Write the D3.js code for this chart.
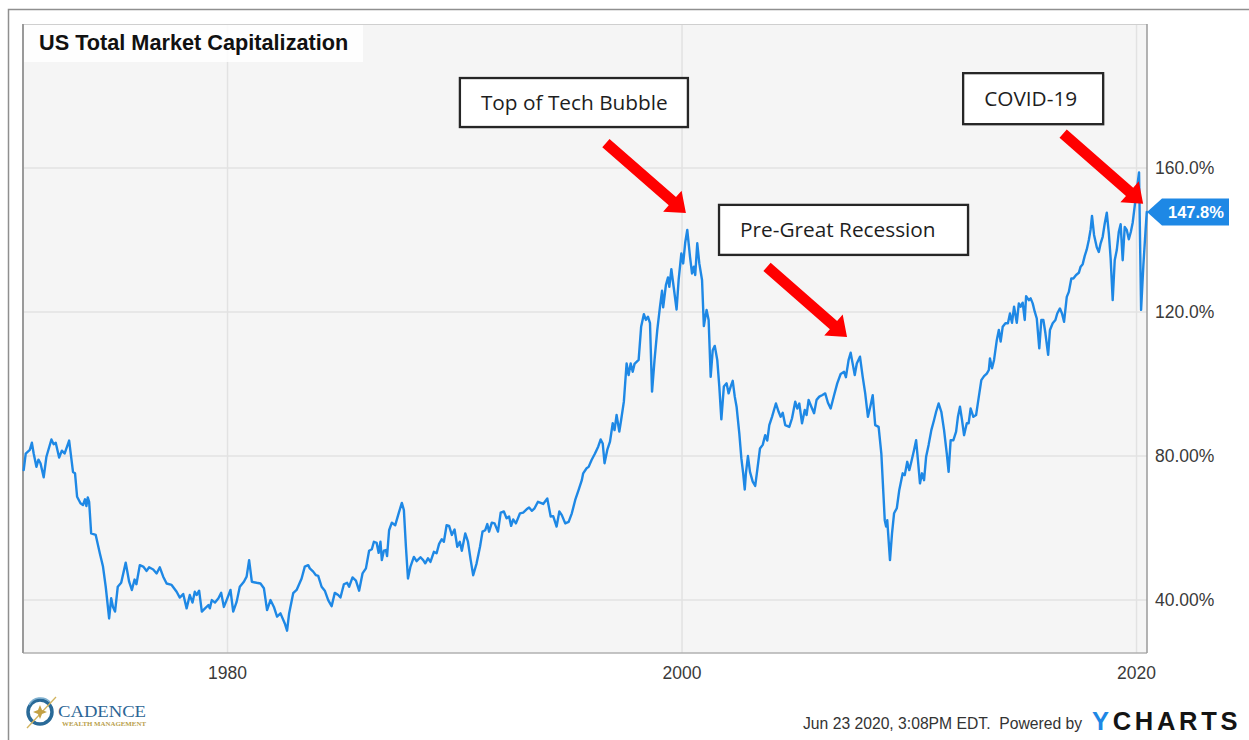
<!DOCTYPE html>
<html><head><meta charset="utf-8">
<script src="https://cdn.jsdelivr.net/npm/d3@7"></script>
<style>
html,body{margin:0;padding:0;background:#fff;}
svg{display:block;}
</style></head><body>
<svg id="chart" width="1249" height="740"></svg>
<script>
// ---------- data ----------
const chartTitle = "US Total Market Capitalization";
const dates = [
1971.03,1971.12,1971.30,1971.39,1971.47,1971.59,1971.68,1971.77,1971.91,1972.03,
1972.25,1972.35,1972.44,1972.59,1972.71,1972.83,1973.03,1973.20,1973.29,1973.38,
1973.53,1973.64,1973.73,1973.79,1973.85,1973.91,1974.00,1974.20,1974.38,1974.52,
1974.64,1974.79,1974.88,1974.96,1975.05,1975.17,1975.32,1975.52,1975.67,1975.79,
1975.91,1975.99,1976.14,1976.29,1976.44,1976.55,1976.73,1976.88,1977.02,1977.17,
1977.32,1977.54,1977.76,1977.90,1978.05,1978.20,1978.34,1978.46,1978.56,1978.64,
1978.75,1978.87,1979.01,1979.16,1979.22,1979.31,1979.45,1979.60,1979.72,1979.84,
1979.96,1980.13,1980.25,1980.40,1980.54,1980.72,1980.84,1980.95,1981.07,1981.28,
1981.45,1981.60,1981.74,1981.89,1982.04,1982.18,1982.33,1982.52,1982.62,1982.71,
1982.89,1983.04,1983.26,1983.40,1983.55,
1983.62,1983.77,1983.89,1983.99,1984.14,1984.28,1984.43,1984.58,1984.72,1984.87,
1984.97,1985.12,1985.26,1985.35,1985.50,1985.65,1985.79,1985.94,1986.09,1986.23,
1986.35,1986.44,1986.56,1986.65,1986.73,1986.79,1986.88,1986.97,1987.02,1987.11,
1987.23,1987.38,1987.53,1987.67,1987.76,1987.85,1987.94,1988.05,1988.20,1988.32,
1988.49,1988.61,1988.70,1988.82,1988.93,1989.08,1989.20,1989.31,1989.43,1989.52,
1989.64,1989.75,1989.87,1989.99,1990.11,1990.22,1990.31,1990.46,1990.58,1990.70,
1990.81,1990.96,1991.11,1991.22,1991.34,1991.43,1991.51,1991.63,1991.75,1991.90,
1992.02,1992.16,1992.28,1992.39,1992.48,1992.57,1992.69,1992.87,1993.01,1993.16,
1993.27,1993.39,1993.51,1993.66,1993.78,1993.89,1994.07,1994.22,1994.33,1994.48,
1994.60,1994.71,1994.86,1995.01,1995.15,1995.30,1995.45,1995.59,
1995.65,1995.80,1995.89,1996.02,1996.17,1996.31,1996.42,1996.51,1996.59,1996.71,
1996.83,1996.95,1997.03,1997.12,1997.24,1997.32,1997.44,1997.56,1997.65,1997.74,
1997.83,1997.91,1998.09,1998.20,1998.32,1998.41,1998.50,1998.59,1998.68,1998.79,
1998.91,1999.03,1999.12,1999.17,1999.29,1999.38,1999.44,1999.53,1999.61,1999.76,
1999.85,1999.97,2000.05,2000.14,2000.23,2000.35,2000.44,2000.52,2000.58,2000.67,
2000.76,2000.88,2000.96,2001.08,2001.17,2001.26,2001.35,2001.44,2001.55,2001.64,
2001.73,2001.84,2001.96,2002.05,2002.14,2002.23,2002.32,2002.40,2002.52,2002.61,
2002.69,2002.76,2002.81,2002.90,2002.99,2003.11,2003.22,2003.31,2003.43,2003.55,
2003.66,2003.75,2003.84,2003.96,2004.13,2004.25,2004.34,2004.43,2004.54,2004.72,
2004.84,2004.98,2005.07,2005.16,2005.28,2005.40,2005.48,2005.57,2005.69,2005.81,
2005.92,2006.04,2006.16,2006.30,2006.42,2006.54,2006.69,2006.83,2006.98,2007.13,
2007.21,2007.33,2007.42,2007.51,2007.60,2007.69,2007.83,2007.95,2008.06,2008.18,
2008.30,2008.39,
2008.50,2008.65,2008.77,2008.86,2008.92,2008.98,2009.03,2009.15,2009.24,2009.33,
2009.45,2009.56,2009.71,2009.80,2009.91,2010.00,2010.09,2010.21,2010.30,2010.38,
2010.47,2010.56,2010.65,2010.74,2010.85,2010.97,2011.09,2011.18,2011.29,2011.41,
2011.53,2011.65,2011.73,2011.82,2011.94,2012.06,2012.14,2012.23,2012.32,2012.41,
2012.53,2012.61,2012.70,2012.82,2012.94,2013.06,2013.17,2013.29,2013.41,2013.50,
2013.55,2013.64,2013.73,2013.85,2013.94,2014.02,2014.11,2014.23,2014.34,2014.43,
2014.52,2014.61,2014.73,2014.82,2014.90,2014.99,2015.08,2015.14,2015.26,2015.34,
2015.43,2015.52,2015.61,2015.72,2015.81,2015.90,2015.99,2016.11,2016.19,2016.31,
2016.43,2016.51,2016.63,2016.72,2016.81,2016.93,2017.02,2017.13,2017.22,2017.34,
2017.46,2017.54,2017.63,2017.72,2017.81,2017.90,2017.98,2018.04,2018.13,2018.25,
2018.34,2018.42,2018.51,2018.60,2018.69,2018.78,2018.86,2018.95,2019.04,2019.13,
2019.22,2019.30,2019.39,2019.48,2019.57,2019.66,2019.75,2019.83,2019.93,2020.11,
2020.20,2020.30,2020.39,2020.45
];
const capPct = [
76.1,80.7,81.7,83.7,80.7,77.0,79.0,78.0,74.1,79.8,
84.6,83.3,83.7,79.6,81.5,80.7,84.3,75.6,75.2,68.7,
66.9,66.4,68.0,66.1,68.5,67.3,58.5,58.1,53.0,49.3,
43.7,34.9,40.5,38.1,36.8,43.7,44.8,50.4,45.1,42.8,
45.7,44.4,49.7,49.3,48.1,49.1,48.5,47.4,49.1,46.5,
44.6,44.2,42.3,40.7,41.7,37.7,41.4,39.3,42.3,41.4,
42.6,36.8,37.7,38.6,37.7,40.0,39.3,40.5,42.0,38.1,
40.0,42.8,36.8,39.5,43.7,45.1,46.5,51.1,45.1,44.8,
44.6,43.3,37.2,40.0,38.1,35.4,36.3,33.5,31.5,36.3,
41.9,42.8,46.0,49.3,49.7,
48.8,47.9,46.9,46.7,43.7,42.6,40.0,38.3,42.0,41.4,
40.7,44.4,44.8,43.7,46.3,45.4,42.6,47.4,48.8,53.7,
54.1,56.2,55.9,53.1,56.2,51.1,53.7,53.9,52.2,59.4,
61.5,60.8,64.1,67.0,65.0,54.8,46.0,49.3,52.0,50.8,
51.9,51.1,50.2,51.6,50.6,53.4,53.0,55.6,56.9,56.2,
60.8,60.6,58.1,59.6,54.8,56.2,53.7,58.5,56.2,51.1,
46.9,50.2,54.8,59.0,59.4,61.1,59.0,61.5,61.3,59.0,
64.3,64.6,62.7,63.2,60.6,62.4,61.3,64.1,64.3,65.2,
65.7,64.8,65.5,67.3,67.0,66.7,68.2,63.2,63.3,60.4,
64.6,63.6,61.3,61.7,64.1,67.8,70.6,73.3,
75.2,76.6,77.0,78.9,80.7,82.6,84.6,83.5,78.0,81.7,
84.0,89.1,87.2,91.4,86.8,90.0,95.1,105.7,102.5,105.7,
103.4,105.6,106.7,115.9,119.4,117.8,118.7,116.9,97.9,106.7,
115.0,121.5,125.9,121.3,127.5,129.6,127.0,131.9,128.0,120.7,
128.9,136.3,133.5,139.3,142.8,135.4,130.7,132.6,130.3,139.1,
133.5,128.9,116.1,120.6,117.8,102.0,109.4,110.6,106.7,99.3,
90.2,99.3,100.2,97.4,99.3,100.9,96.5,93.7,86.3,79.4,
75.2,70.7,75.2,80.0,75.6,72.9,71.7,76.1,82.1,83.1,
85.8,84.3,88.6,90.9,94.6,92.3,90.9,92.0,88.6,88.1,
90.5,95.1,93.2,94.6,89.1,92.8,91.4,95.6,93.7,91.9,
95.6,96.5,96.9,97.4,94.8,93.2,96.9,100.2,102.8,103.4,
101.9,106.7,108.7,105.6,102.5,105.7,107.6,102.0,97.4,90.9,
94.2,96.9,
88.6,88.1,80.7,69.6,62.2,60.4,62.2,51.1,58.5,64.1,
65.5,70.6,75.2,74.7,78.4,76.1,78.4,81.7,84.4,78.9,
72.4,75.2,73.3,79.8,83.1,87.2,90.0,92.3,94.6,92.3,
87.2,80.7,75.6,84.4,84.4,86.8,90.9,93.7,90.0,85.8,
89.1,89.1,93.2,90.9,91.4,96.5,101.1,102.2,102.9,103.9,
107.1,104.4,106.7,112.2,115.0,111.8,115.9,116.9,116.9,119.6,
117.0,121.5,117.0,122.4,121.5,122.6,117.8,124.4,123.3,123.8,
122.4,120.1,118.2,109.9,117.8,117.8,114.1,108.1,115.0,116.9,
117.8,119.6,121.0,119.6,117.3,124.2,125.6,129.3,129.3,130.3,
130.9,132.6,133.3,135.6,137.4,140.0,143.0,146.7,141.4,138.0,
136.7,139.1,140.9,144.6,147.6,141.9,134.9,123.3,134.4,137.2,
142.3,144.4,134.4,143.6,142.8,140.2,142.3,144.8,150.0,158.8,
120.6,133.0,142.0,147.8
];
const yTicks = [40, 80, 120, 160];
const yTickLabels = ["40.00%", "80.00%", "120.0%", "160.0%"];
const xTicks = [1980, 2000, 2020];
const xTickLabels = ["1980", "2000", "2020"];
const annotationLabels = ["Top of Tech Bubble", "Pre-Great Recession", "COVID-19"];
const annotationDates = [2000.17, 2007.26, 2020.29];
const annotationValues = [147.5, 113.1, 150.1];
const lastValueLabel = "147.8%";
const footerText = "Jun 23 2020, 3:08PM EDT.  Powered by";

// ---------- layout ----------
const plot = {left: 23, right: 1147, top: 24, bottom: 653};
const svg = d3.select("#chart");
const blue = "#1e88e5";
const x = d3.scaleLinear().domain([1971.0, 2020.46]).range([plot.left, plot.right]);
const y = d3.scaleLinear().domain([25.3, 200]).range([plot.bottom, plot.top]);
const data = dates.map((d, i) => ({date: d, value: capPct[i]}));

// outer frame
svg.append("path").attr("d", "M8.5,740V9.5H1249").attr("fill", "none")
  .attr("stroke", "#8f8f8f").attr("stroke-width", 1.5);

// plot background
svg.append("rect").attr("x", plot.left).attr("y", plot.top)
  .attr("width", plot.right - plot.left).attr("height", plot.bottom - plot.top)
  .attr("fill", "#f5f5f5");

// gridlines
svg.append("g").selectAll("line").data(yTicks).join("line")
  .attr("x1", plot.left).attr("x2", plot.right)
  .attr("y1", d => y(d)).attr("y2", d => y(d))
  .attr("stroke", "#e2e2e2").attr("stroke-width", 1.5);
svg.append("g").selectAll("line").data(xTicks).join("line")
  .attr("x1", d => x(d)).attr("x2", d => x(d))
  .attr("y1", plot.top).attr("y2", plot.bottom)
  .attr("stroke", "#e2e2e2").attr("stroke-width", 1.5);

// title box
svg.append("rect").attr("x", plot.left).attr("y", plot.top).attr("width", 340).attr("height", 38)
  .attr("fill", "rgba(255,255,255,0.85)");
svg.append("text").attr("x", 39).attr("y", 50).text(chartTitle)
  .attr("font-family", "Liberation Sans, Arial, sans-serif").attr("font-weight", "bold")
  .attr("font-size", 21.7).attr("fill", "#111");

// plot borders
svg.append("line").attr("x1", plot.left).attr("x2", plot.right).attr("y1", plot.top + 0.5).attr("y2", plot.top + 0.5)
  .attr("stroke", "#cfcfcf").attr("stroke-width", 1);
svg.append("line").attr("x1", plot.left).attr("x2", plot.right).attr("y1", plot.bottom).attr("y2", plot.bottom)
  .attr("stroke", "#b0b0b0").attr("stroke-width", 1.5);
svg.append("line").attr("x1", plot.left).attr("x2", plot.left).attr("y1", plot.top).attr("y2", plot.bottom)
  .attr("stroke", "#9a9a9a").attr("stroke-width", 2);
svg.append("line").attr("x1", plot.right).attr("x2", plot.right).attr("y1", plot.top).attr("y2", plot.bottom)
  .attr("stroke", "#9a9a9a").attr("stroke-width", 1.5);

// data line
svg.append("path").datum(data)
  .attr("d", d3.line().x(d => x(d.date)).y(d => y(d.value)))
  .attr("fill", "none").attr("stroke", blue).attr("stroke-width", 2.4)
  .attr("stroke-linejoin", "round").attr("stroke-linecap", "round");

// axis labels
const axisFont = "Liberation Sans, Arial, sans-serif";
svg.append("g").selectAll("text").data(yTicks).join("text")
  .attr("x", plot.right + 8).attr("y", d => y(d)).attr("dy", "0.35em")
  .text((d, i) => yTickLabels[i])
  .attr("font-family", axisFont).attr("font-size", 17.5).attr("fill", "#3a3a3a");
svg.append("g").selectAll("text").data(xTicks).join("text")
  .attr("x", d => x(d)).attr("y", 679).attr("text-anchor", "middle")
  .text((d, i) => xTickLabels[i])
  .attr("font-family", axisFont).attr("font-size", 17.5).attr("fill", "#3a3a3a");

// annotations
const arrowTail = {dx: -80, dy: -70};
const boxLayout = [
  {dx: -226, dy: -135, w: 228, h: 49},
  {dx: -128, dy: -132, w: 249, h: 50},
  {dx: -180, dy: -130.5, w: 140, h: 51}
];
function arrowPath(tx, ty, px, py) {
  const L = Math.hypot(px - tx, py - ty);
  const ux = (px - tx) / L, uy = (py - ty) / L;
  const nx = -uy, ny = ux;
  const sw = 5.5, hl = 18, hw = 14;
  const bx = px - ux * hl, by = py - uy * hl;
  const pts = [
    [tx + nx * sw, ty + ny * sw], [bx + nx * sw, by + ny * sw], [bx + nx * hw, by + ny * hw],
    [px, py], [bx - nx * hw, by - ny * hw], [bx - nx * sw, by - ny * sw], [tx - nx * sw, ty - ny * sw]
  ];
  return "M" + pts.map(p => p.join(",")).join("L") + "Z";
}
annotationLabels.forEach((label, i) => {
  const px = x(annotationDates[i]), py = y(annotationValues[i]);
  const b = boxLayout[i];
  const g = svg.append("g");
  g.append("rect").attr("x", px + b.dx + 1.5).attr("y", py + b.dy + 1.5).attr("width", b.w).attr("height", b.h)
    .attr("fill", "#bbb").attr("opacity", 0.5);
  g.append("rect").attr("x", px + b.dx).attr("y", py + b.dy).attr("width", b.w).attr("height", b.h)
    .attr("fill", "#fff").attr("stroke", "#262626").attr("stroke-width", 2.3);
  g.append("text").attr("x", px + b.dx + 21).attr("y", py + b.dy + b.h / 2).attr("dy", "0.36em")
    .text(label).attr("font-family", "Open Sans, Lato, sans-serif").attr("font-size", 20.8).attr("fill", "#1e1e1e");
  svg.append("path").attr("d", arrowPath(px + arrowTail.dx, py + arrowTail.dy, px, py)).attr("fill", "#ff0000");
});

// last value flag
const last = data[data.length - 1];
const fx = plot.right, fy = y(last.value);
svg.append("path")
  .attr("d", `M${fx},${fy}L${fx + 15},${fy - 13.5}H${fx + 82}V${fy + 13.5}H${fx + 15}Z`)
  .attr("fill", blue);
svg.append("text").attr("x", fx + 21).attr("y", fy).attr("dy", "0.36em").text(lastValueLabel)
  .attr("font-family", axisFont).attr("font-weight", "bold").attr("font-size", 16.5).attr("fill", "#fff");

// footer
svg.append("text").attr("x", 803).attr("y", 729).text(footerText)
  .attr("font-family", axisFont).attr("font-size", 15.7).attr("fill", "#333").style("white-space", "pre");
const yc = svg.append("text").attr("x", 1092).attr("y", 730)
  .attr("font-family", axisFont).attr("font-weight", "bold").attr("font-size", 25.5).attr("letter-spacing", 3.7);
yc.append("tspan").text("Y").attr("fill", blue);
yc.append("tspan").text("CHARTS").attr("fill", "#141414");

// Cadence logo
const logo = svg.append("g");
logo.append("circle").attr("cx", 40).attr("cy", 712).attr("r", 12).attr("fill", "none")
  .attr("stroke", "#2a6a98").attr("stroke-width", 3.5);
logo.append("path").attr("d", "M29,705A13,13 0 0 1 50,702").attr("fill", "none")
  .attr("stroke", "#7fb0cf").attr("stroke-width", 1.5);
logo.append("line").attr("x1", 27).attr("y1", 728).attr("x2", 56).attr("y2", 697)
  .attr("stroke", "#d2b45e").attr("stroke-width", 1.3);
logo.append("path").attr("d", "M40,705L42,710L47,712L42,714L40,719L38,714L33,712L38,710Z").attr("fill", "#c4a145");
logo.append("text").attr("x", 58).attr("y", 716.5).text("CADENCE")
  .attr("font-family", "Liberation Serif, DejaVu Serif, serif").attr("font-size", 17)
  .attr("fill", "#2c6595").attr("textLength", 88).attr("lengthAdjust", "spacingAndGlyphs");
logo.append("text").attr("x", 62).attr("y", 726).text("WEALTH MANAGEMENT")
  .attr("font-family", "Liberation Serif, DejaVu Serif, serif").attr("font-weight", "bold").attr("font-size", 5.5)
  .attr("fill", "#b9a04a").attr("textLength", 84).attr("lengthAdjust", "spacingAndGlyphs");
</script>
</body></html>
